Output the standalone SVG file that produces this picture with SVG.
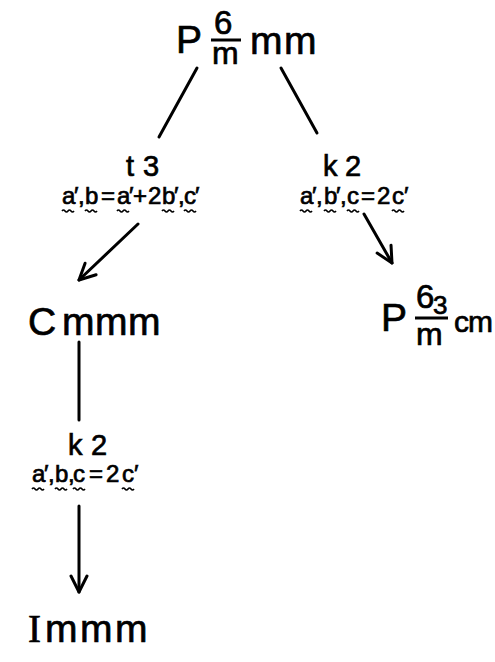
<svg xmlns="http://www.w3.org/2000/svg" width="495" height="662" viewBox="0 0 495 662">
<style>
.t{font-family:"Liberation Sans","DejaVu Sans",sans-serif;fill:#000;stroke:#000;stroke-width:0.7}
.big{font-size:39px}
.frac{font-size:33px}
.op{font-size:29px}
.lab{font-size:24px}
.ln{stroke:#000;stroke-width:3;fill:none;stroke-linecap:round}
.bar{stroke:#000;stroke-width:3}
.w{stroke:#000;stroke-width:1.6;fill:none}
</style>
<defs>
<path id="wv" class="w" d="M0,0 q1.5,-2 3,0 t3,0 t3,0 t3,0"/>
<marker id="ah" viewBox="0 0 20 20" refX="18" refY="10" markerWidth="20" markerHeight="20" markerUnits="userSpaceOnUse" orient="auto">
<path d="M2,2 L18,10 L2,18" fill="none" stroke="#000" stroke-width="3" stroke-linecap="round" stroke-linejoin="round"/>
</marker>
</defs>
<g id="connectors">
<line class="ln" x1="197" y1="68" x2="159" y2="137"/>
<line class="ln" x1="281" y1="68" x2="317" y2="133"/>
<line class="ln" x1="138" y1="224" x2="79" y2="280" marker-end="url(#ah)"/>
<line class="ln" x1="364" y1="214" x2="392" y2="263" marker-end="url(#ah)"/>
<line class="ln" x1="79" y1="342" x2="79" y2="420"/>
<line class="ln" x1="79" y1="506" x2="79" y2="592" marker-end="url(#ah)"/>
</g>
<g id="node-P6mmm">
<text class="t big" x="176" y="53">P</text>
<text class="t frac" x="214" y="34">6</text>
<line class="bar" x1="211" y1="40" x2="241" y2="40"/>
<text class="t" style="font-size:32px" x="212" y="64">m</text>
<text class="t big" x="250 284" y="54">mm</text>
</g>
<g id="label-t3">
<text class="t op" x="126 143" y="176">t3</text>
<text class="t lab" x="62 74 78 85 101 117 129 133 148 162 174 178 184 195" y="204">a′,b=a′+2b′,c′</text>
<use href="#wv" x="62" y="211"/><use href="#wv" x="85" y="211"/><use href="#wv" x="117" y="211"/><use href="#wv" x="162" y="211"/><use href="#wv" x="184" y="211"/>
</g>
<g id="label-k2-right">
<text class="t op" x="323 345" y="176">k2</text>
<text class="t lab" x="300 312 316 324 336 340 347 361 377 392 404" y="204">a′,b′,c=2c′</text>
<use href="#wv" x="300" y="211"/><use href="#wv" x="324" y="211"/><use href="#wv" x="347" y="211"/><use href="#wv" x="392" y="211"/>
</g>
<g id="node-Cmmm">
<text class="t big" x="28 62 95 128" y="335">Cmmm</text>
</g>
<g id="node-P63mcm">
<text class="t big" x="381" y="331">P</text>
<text class="t frac" x="416" y="308">6</text>
<text class="t" style="font-size:26px" x="433" y="314">3</text>
<line class="bar" x1="415" y1="318" x2="448" y2="318"/>
<text class="t" style="font-size:32px" x="416" y="345">m</text>
<text class="t" style="font-size:30px" x="454 468" y="332">cm</text>
</g>
<g id="label-k2-bottom">
<text class="t op" x="68 91" y="455">k2</text>
<text class="t lab" x="32 44 48 55 68 73 89 106 122 134" y="482">a′,b,c=2c′</text>
<use href="#wv" x="32" y="489"/><use href="#wv" x="55" y="489"/><use href="#wv" x="73" y="489"/><use href="#wv" x="122" y="489"/>
</g>
<g id="node-Immm">
<text class="t big" x="28 45 80 115" y="642"><tspan style="font-family:'Liberation Serif',serif">I</tspan>mmm</text>
</g>
</svg>
